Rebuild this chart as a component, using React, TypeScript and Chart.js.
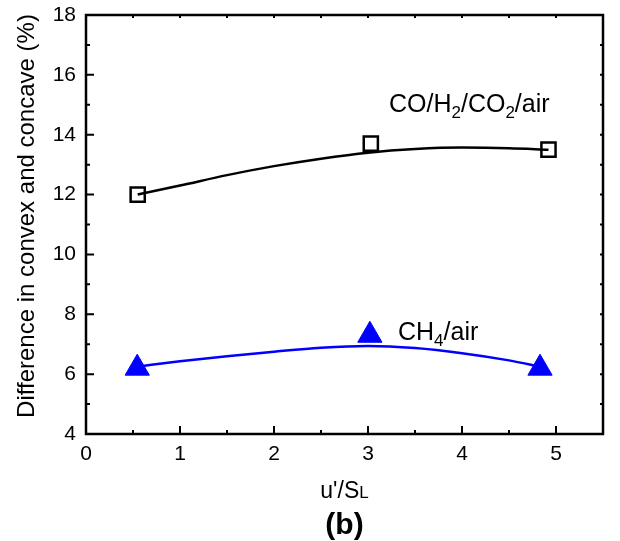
import React, { useEffect, useRef } from 'react';
import { Chart, registerables } from 'chart.js';
Chart.register(...registerables);

// measured markers
const coX = [0.55, 3.03, 4.92];
const coY = [12.0, 13.7, 13.5];
const ch4X = [0.545, 3.02, 4.83];
const ch4Y = [6.2, 7.3, 6.2];
// fitted curves
const coFitX = [0.55, 1.0, 1.5, 2.0, 2.5, 3.0, 3.5, 4.0, 4.5, 4.92];
const coFitY = [12.0, 12.3, 12.65, 12.95, 13.2, 13.4, 13.52, 13.57, 13.55, 13.5];
const ch4FitX = [0.545, 1.0, 1.5, 2.0, 2.5, 3.0, 3.5, 4.0, 4.5, 4.83];
const ch4FitY = [6.25, 6.43, 6.6, 6.75, 6.88, 6.94, 6.87, 6.7, 6.46, 6.25];

const xMin = 0, xMax = 5.5, xStep = 1, xMinor = 0.5;
const yMin = 4, yMax = 18, yStep = 2, yMinor = 1;

const FONT = '"Liberation Sans", Arial, sans-serif';

type Seg = { t: string; sub?: boolean };
function drawRich(ctx: CanvasRenderingContext2D, segs: Seg[], x: number, y: number, size: number) {
  const subSize = Math.round(size * 0.68);
  let cx = x;
  ctx.textAlign = 'left';
  ctx.textBaseline = 'alphabetic';
  for (const s of segs) {
    ctx.font = `${s.sub ? subSize : size}px ${FONT}`;
    ctx.fillText(s.t, cx, s.sub ? y + size * 0.22 : y);
    cx += ctx.measureText(s.t).width;
  }
}

const decor = {
  id: 'decor',
  afterDraw(chart: any) {
    const { ctx, chartArea: a, scales } = chart;
    const xs = scales.x, ys = scales.y;
    ctx.save();
    ctx.strokeStyle = '#000';
    ctx.fillStyle = '#000';
    ctx.lineWidth = 2.5;
    ctx.strokeRect(a.left, a.top, a.right - a.left, a.bottom - a.top);
    ctx.lineWidth = 2;
    ctx.beginPath();
    for (let v = xMin; v <= xMax + 1e-9; v += xMinor) {
      const p = xs.getPixelForValue(v);
      const major = Math.abs(v / xStep - Math.round(v / xStep)) < 1e-6;
      const len = major ? 8 : 4;
      ctx.moveTo(p, a.bottom); ctx.lineTo(p, a.bottom - len);
      ctx.moveTo(p, a.top); ctx.lineTo(p, a.top + 3);
    }
    for (let v = yMin; v <= yMax + 1e-9; v += yMinor) {
      const p = ys.getPixelForValue(v);
      const major = Math.abs(v / yStep - Math.round(v / yStep)) < 1e-6;
      const len = major ? 8 : 4;
      ctx.moveTo(a.left, p); ctx.lineTo(a.left + len, p);
      ctx.moveTo(a.right, p); ctx.lineTo(a.right - 3, p);
    }
    ctx.stroke();

    // y title
    ctx.save();
    ctx.translate(34, 216);
    ctx.rotate(-Math.PI / 2);
    ctx.font = `24px ${FONT}`;
    ctx.textAlign = 'center';
    ctx.textBaseline = 'alphabetic';
    ctx.fillText('Difference in convex and concave (%)', 0, 0);
    ctx.restore();

    // x title u'/SL
    const cxm = (a.left + a.right) / 2;
    ctx.font = `23px ${FONT}`;
    const w1 = ctx.measureText("u'/S").width;
    ctx.font = `17px ${FONT}`;
    const w2 = ctx.measureText('L').width;
    const sx = cxm - (w1 + w2) / 2;
    ctx.textAlign = 'left';
    ctx.textBaseline = 'alphabetic';
    ctx.font = `23px ${FONT}`;
    ctx.fillText("u'/S", sx, 498);
    ctx.font = `17px ${FONT}`;
    ctx.fillText('L', sx + w1, 498);

    // (b)
    ctx.font = `bold 30px ${FONT}`;
    ctx.textAlign = 'center';
    ctx.fillText('(b)', cxm, 534);

    // annotations
    drawRich(ctx, [{ t: 'CO/H' }, { t: '2', sub: true }, { t: '/CO' }, { t: '2', sub: true }, { t: '/air' }], 389, 112, 25);
    drawRich(ctx, [{ t: 'CH' }, { t: '4', sub: true }, { t: '/air' }], 398, 340, 25);
    ctx.restore();
  },
};

export default function App() {
  const ref = useRef<HTMLCanvasElement>(null);
  useEffect(() => {
    const toPts = (xs: number[], ys: number[]) => xs.map((x, i) => ({ x, y: ys[i] }));
    const chart = new Chart(ref.current!, {
      type: 'scatter',
      data: {
        datasets: [
          {
            data: toPts(coFitX, coFitY), showLine: true, borderColor: '#000', borderWidth: 2.5,
            pointRadius: 0, cubicInterpolationMode: 'monotone', fill: false,
          },
          {
            data: toPts(ch4FitX, ch4FitY), showLine: true, borderColor: '#0000FF', borderWidth: 2.5,
            pointRadius: 0, cubicInterpolationMode: 'monotone', fill: false,
          },
          {
            data: toPts(coX, coY), showLine: false, pointStyle: 'rect', pointRadius: 10,
            borderColor: '#000', borderWidth: 2.5, backgroundColor: 'rgba(0,0,0,0)',
          },
          {
            data: toPts(ch4X, ch4Y), showLine: false, pointStyle: 'triangle', pointRadius: 14,
            borderColor: '#0000FF', borderWidth: 1, backgroundColor: '#0000FF',
          },
        ] as any,
      },
      options: {
        animation: false,
        responsive: false,
        devicePixelRatio: 1,
        layout: { padding: { left: 0, top: 15, right: 17, bottom: 0 } },
        plugins: { legend: { display: false }, tooltip: { enabled: false } },
        scales: {
          x: {
            type: 'linear', min: xMin, max: xMax,
            grid: { display: false, drawTicks: false },
            border: { display: false },
            ticks: { stepSize: xStep, includeBounds: false, padding: 8, color: '#000', font: { family: FONT, size: 21 } },
            afterFit: (s: any) => { s.height = 107; s.paddingLeft = 0; s.paddingRight = 0; },
          },
          y: {
            type: 'linear', min: yMin, max: yMax,
            grid: { display: false, drawTicks: false },
            border: { display: false },
            ticks: { stepSize: yStep, padding: 10, color: '#000', font: { family: FONT, size: 21 } },
            afterFit: (s: any) => { s.width = 86; s.paddingTop = 0; s.paddingBottom = 0; },
          },
        },
      } as any,
      plugins: [decor],
    });
    return () => chart.destroy();
  }, []);
  return (
    <div style={{ position: 'fixed', left: 0, top: 0, width: 620, height: 541, background: '#fff' }}>
      <canvas ref={ref} width={620} height={541} />
    </div>
  );
}
